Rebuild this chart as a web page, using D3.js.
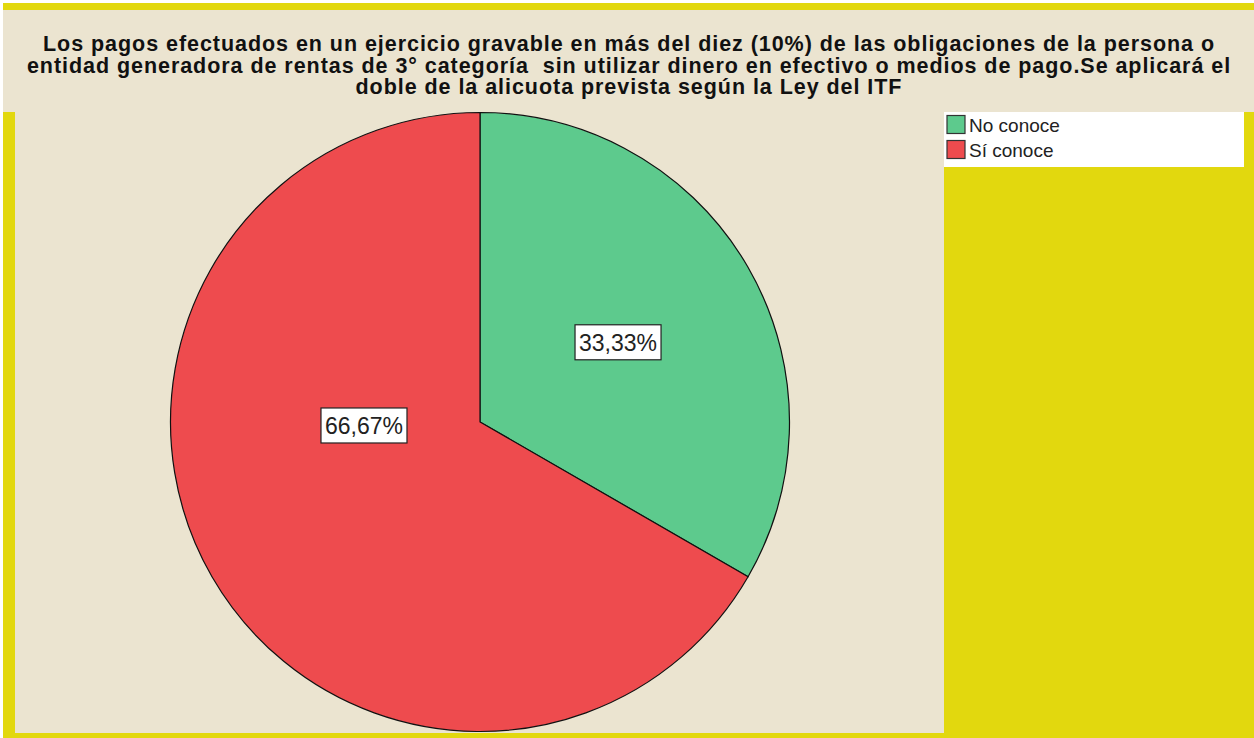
<!DOCTYPE html>
<html>
<head>
<meta charset="utf-8">
<script src="https://cdn.jsdelivr.net/npm/d3@7"></script>
<style>
  body { margin: 0; background: #fff; }
  svg { display: block; }
</style>
</head>
<body>
<svg id="chart" width="1254" height="738"></svg>
<script>
(() => {
    const titleLines = [
      "Los pagos efectuados en un ejercicio gravable en más del diez (10%) de las obligaciones de la persona o",
      "entidad generadora de rentas de 3° categoría  sin utilizar dinero en efectivo o medios de pago.Se aplicará el",
      "doble de la alicuota prevista según la Ley del ITF"
    ];
    const categories = ["No conoce", "Sí conoce"];
    const percentages = [33.33, 66.67];
    const labelTexts = ["33,33%", "66,67%"];

    const colorMap = {
      "No conoce": "#5dca8d",
      "Sí conoce": "#ee4b4e"
    };
    const frameColor = "#e2d80e";
    const panelColor = "#ebe4d0";

    const svg = d3.select("#chart");
    const W = +svg.attr("width");
    const H = +svg.attr("height");

    // frame + panels
    svg.append("rect").attr("x", 3).attr("y", 3).attr("width", W - 3).attr("height", H - 3).attr("fill", frameColor);
    svg.append("rect").attr("x", 3).attr("y", 10).attr("width", W - 3).attr("height", 102).attr("fill", panelColor);
    const plot = {left: 15, top: 112, right: 944, bottom: 733};
    svg.append("rect")
        .attr("x", plot.left).attr("y", plot.top)
        .attr("width", plot.right - plot.left).attr("height", plot.bottom - plot.top)
        .attr("fill", panelColor);

    // title
    svg.append("text")
        .attr("text-anchor", "middle")
        .attr("font-family", "Liberation Sans, Arial, sans-serif")
        .attr("font-weight", "bold")
        .attr("font-size", 21.5)
        .attr("letter-spacing", 0.95)
        .style("white-space", "pre")
        .attr("fill", "#111")
      .selectAll("tspan")
      .data(titleLines)
      .enter().append("tspan")
        .attr("x", (3 + W) / 2 + 0.5)
        .attr("y", (d, i) => 51 + i * 21.7)
        .text(d => d);

    // pie
    const cx = 480, cy = 422, r = 309.5;
    const data = categories.map((c, i) => ({name: c, value: percentages[i], label: labelTexts[i]}));
    const pie = d3.pie().sort(null).value(d => d.value);
    const arcs = pie(data);
    const arc = d3.arc().innerRadius(0).outerRadius(r);

    const g = svg.append("g").attr("transform", "translate(" + cx + "," + cy + ")");

    g.selectAll("path.slice")
      .data(arcs)
      .enter().append("path")
        .attr("class", "slice")
        .attr("d", arc)
        .attr("fill", d => colorMap[d.data.name])
        .attr("stroke", "#111")
        .attr("stroke-width", 1.2);

    // label anchors: small slice at its centroid, the big one pushed to its widest side
    const labelPos = (d) => {
      const span = d.endAngle - d.startAngle;
      let a, dist;
      if (span <= Math.PI) {
        a = (d.startAngle + d.endAngle) / 2;
        dist = r * 0.515;
      } else {
        a = 1.5 * Math.PI - 0.03;
        dist = r * 0.375;
      }
      return [Math.sin(a) * dist, -Math.cos(a) * dist];
    };

    const labels = g.selectAll("g.lbl")
      .data(arcs)
      .enter().append("g")
        .attr("class", "lbl")
        .attr("transform", d => "translate(" + labelPos(d) + ")");

    labels.append("rect")
        .attr("x", -43).attr("y", -17.5)
        .attr("width", 86).attr("height", 35)
        .attr("fill", "#fff")
        .attr("stroke", "#222")
        .attr("stroke-width", 1.2);

    labels.append("text")
        .attr("text-anchor", "middle")
        .attr("dy", "0.36em")
        .attr("font-family", "Liberation Sans, Arial, sans-serif")
        .attr("font-size", 23)
        .attr("fill", "#222")
        .text(d => d.data.label);

    // legend
    const legend = svg.append("g").attr("transform", "translate(944,112)");
    legend.append("rect").attr("width", 300).attr("height", 55).attr("fill", "#fff");

    const items = legend.selectAll("g.item")
      .data(categories)
      .enter().append("g")
        .attr("class", "item")
        .attr("transform", (d, i) => "translate(3," + (3.5 + i * 25) + ")");

    items.append("rect")
        .attr("width", 18).attr("height", 18)
        .attr("fill", d => colorMap[d])
        .attr("stroke", "#333")
        .attr("stroke-width", 1.2);

    items.append("text")
        .attr("x", 22)
        .attr("y", 16)
        .attr("font-family", "Liberation Sans, Arial, sans-serif")
        .attr("font-size", 19)
        .attr("fill", "#222")
        .text(d => d);
})();
</script>
</body>
</html>
